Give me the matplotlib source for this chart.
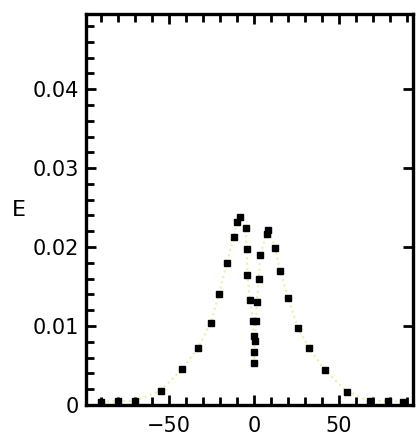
import numpy as np
import matplotlib.pyplot as plt
from matplotlib.ticker import MultipleLocator, FixedLocator, NullFormatter

# energy profile across the scan angle
angle = [-90, -80, -70, -55, -42.5, -33, -25.5, -20.8, -16, -12, -10, -8.2,
         -4.9, -4.3, -3.9, -2.4, -0.5, -0.3, 0.0, 0.0, 0.5, 1.2, 1.6, 2.9,
         3.7, 7.5, 8.4, 12.3, 15.3, 20.2, 25.7, 32.3, 41.8, 54.5, 68, 79, 88]
energy = [0.0004, 0.0005, 0.0005, 0.0018, 0.0045, 0.0072, 0.0104, 0.0140,
          0.0180, 0.0213, 0.0232, 0.0238, 0.0224, 0.0198, 0.0165, 0.0133,
          0.0106, 0.0087, 0.0067, 0.0053, 0.0081, 0.0106, 0.0130, 0.0160,
          0.0190, 0.0217, 0.0222, 0.0199, 0.0170, 0.0135, 0.0098, 0.0072,
          0.0044, 0.0017, 0.0005, 0.0005, 0.0004]

xticks = [-50, 0, 50]
yticks = [0, 0.01, 0.02, 0.03, 0.04]
ytick_labels = ["0", "0.01", "0.02", "0.03", "0.04"]

fig = plt.figure(figsize=(4.17, 4.44), dpi=100)
ax = fig.add_axes([0.206, 0.088, 0.784, 0.88])

ax.plot(angle, energy, linestyle=":", color="#eeeeaa", linewidth=1.5, zorder=1)
ax.plot(angle, energy, linestyle="none", marker="s", markersize=3.8,
        color="black", zorder=2)

ax.set_xlim(-99, 93.5)
ax.set_ylim(0, 0.0495)

ax.xaxis.set_major_locator(FixedLocator(xticks))
ax.xaxis.set_minor_locator(MultipleLocator(10))
ax.set_xticklabels(["\u221250", "0", "50"])
ax.yaxis.set_major_locator(FixedLocator(yticks))
ax.yaxis.set_minor_locator(MultipleLocator(0.002))
ax.set_yticklabels(ytick_labels)

ax.tick_params(axis="both", which="major", direction="in", length=7, width=2,
               top=True, right=True, labelsize=15)
ax.tick_params(axis="x", which="major", pad=8)
ax.tick_params(axis="y", which="major", pad=5)
ax.tick_params(axis="both", which="minor", direction="in", length=6, width=2,
               top=True, right=False)
ax.tick_params(axis="y", which="major", right=True)

for side in ax.spines.values():
    side.set_linewidth(2.4)

fig.text(0.045, 0.527, "E", fontsize=16, ha="center", va="center")

fig.savefig("out.png", dpi=100)
